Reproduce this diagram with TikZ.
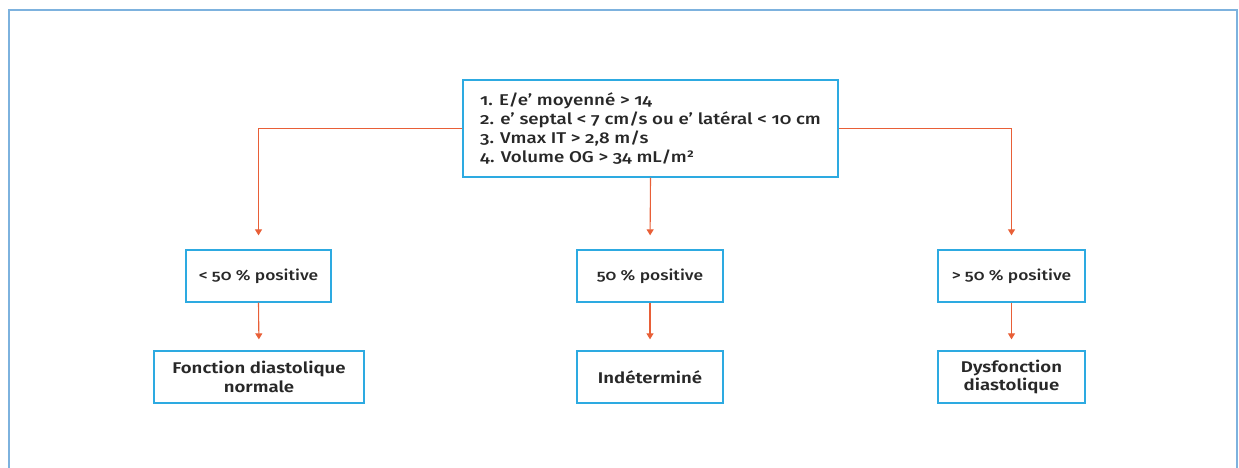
\documentclass[tikz,border=0pt]{standalone}
\usepackage{fontspec}
\setmainfont{Fira Sans}[Numbers=OldStyle, FakeStretch=1.2]
\newfontfamily\firamed{Fira Sans Medium}[Numbers=OldStyle, FakeStretch=1.2]
\newfontfamily\firasemi{Fira Sans SemiBold}[Numbers=OldStyle, FakeStretch=1.2]
\usetikzlibrary{arrows.meta}
\definecolor{boxblue}{RGB}{45,170,225}
\definecolor{frameblue}{RGB}{125,178,222}
\definecolor{arrowred}{RGB}{232,95,55}
\definecolor{txt}{RGB}{40,40,40}
\tikzset{
  box/.style={draw=boxblue, line width=1.3pt, fill=white, text=txt, align=center, inner sep=0pt},
  midtxt/.style={font=\fontsize{14.5}{17}\selectfont\firamed},
  bottxt/.style={font=\fontsize{15.5}{18.5}\selectfont\firasemi},
  conn/.style={draw=arrowred, line width=1.1pt, -{Triangle[width=7pt,length=6pt]}, shorten >=14pt},
}
\begin{document}
\begin{tikzpicture}[x=1pt,y=-1pt]
\useasboundingbox (0,0) rectangle (1239,468);
\draw[frameblue, line width=1.6pt] (9,468) -- (9,10) -- (1237,10) -- (1237,468);
\node[box, minimum width=375pt, minimum height=97pt, align=left,
      font=\fontsize{15.6}{18.8}\selectfont\firamed] (top) at (650.5,128.5)
  {1. E/e’ moyenné > 14\\
   2. e’ septal < 7 cm/s ou e’ latéral < 10 cm\\
   3. Vmax IT > 2,8 m/s\\
   4. Volume OG > 34 mL/m²};
\node[box, minimum width=145pt, minimum height=52pt, midtxt] (m1) at (258.5,276) {< 50 \% positive};
\node[box, minimum width=146pt, minimum height=52pt, midtxt] (m2) at (650,276) {50 \% positive};
\node[box, minimum width=147pt, minimum height=52pt, midtxt] (m3) at (1011.5,276) {> 50 \% positive};
\node[box, minimum width=210pt, minimum height=52pt, bottxt] (b1) at (259,377) {Fonction diastolique\\normale};
\node[box, minimum width=146pt, minimum height=52pt, bottxt] (b2) at (650,377) {Indéterminé};
\node[box, minimum width=147pt, minimum height=52pt, bottxt] (b3) at (1011.5,377) {Dysfonction\\diastolique};
\draw[conn] (top.west) -| (m1.north);
\draw[conn] (top.south) -- (m2.north);
\draw[conn] (top.east) -| (m3.north);
\draw[conn, shorten >=11pt] (m1.south) -- (b1.north);
\draw[conn, shorten >=11pt] (m2.south) -- (b2.north);
\draw[conn, shorten >=11pt] (m3.south) -- (b3.north);
\end{tikzpicture}
\end{document}
